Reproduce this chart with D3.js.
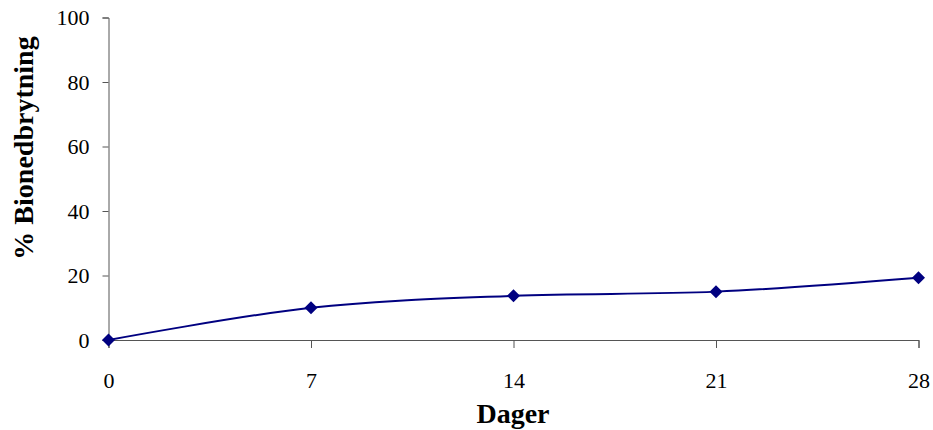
<!DOCTYPE html>
<html>
<head>
<meta charset="utf-8">
<script src="https://cdn.jsdelivr.net/npm/d3@7"></script>
<style>
  html, body { margin: 0; padding: 0; background: #fff; }
  svg { display: block; }
  svg text { font-family: "Times New Roman", "Liberation Serif", "DejaVu Serif", serif !important; }
</style>
</head>
<body>
<svg id="chart" width="933" height="430"></svg>
<script>
const days = [0, 7, 14, 21, 28];
const degradation = [0, 10.0, 13.7, 15.0, 19.3];
const xTicks = [0, 7, 14, 21, 28];
const yTicks = [0, 20, 40, 60, 80, 100];
const xTitle = "Dager";
const yTitle = "% Bionedbrytning";

const FONT = "'Times New Roman', 'Liberation Serif', 'DejaVu Serif', serif";
const svg = d3.select("#chart");
const margin = { left: 108.5, top: 17.5 };

const x = d3.scaleLinear().domain([0, 28]).range([margin.left, 918.5]);
const y = d3.scaleLinear().domain([0, 100]).range([340, margin.top]);

const axisColor = "#555";

// Y axis
const yAxis = svg.append("g")
  .attr("transform", `translate(${margin.left},0)`)
  .call(d3.axisLeft(y).tickValues(yTicks).tickSize(6).tickPadding(13).tickFormat(d3.format("d")));
yAxis.attr("font-family", FONT).attr("font-size", 22);
yAxis.select(".domain").attr("stroke", axisColor);
yAxis.selectAll(".tick line").attr("stroke", axisColor);
yAxis.selectAll(".tick text").attr("fill", "#000");

// X axis
const xAxis = svg.append("g")
  .attr("transform", `translate(0,${y(0)})`)
  .call(d3.axisBottom(x).tickValues(xTicks).tickSize(8).tickPadding(24).tickFormat(d3.format("d")));
xAxis.attr("font-family", FONT).attr("font-size", 22);
xAxis.select(".domain").attr("stroke", axisColor);
xAxis.selectAll(".tick line").attr("stroke", axisColor);
xAxis.selectAll(".tick text").attr("fill", "#000");

// Line
const pts = days.map((d, i) => [d, degradation[i]]);
svg.append("path")
  .datum(pts)
  .attr("fill", "none")
  .attr("stroke", "#000080")
  .attr("stroke-width", 2)
  .attr("d", d3.line().x(d => x(d[0])).y(d => y(d[1])).curve(d3.curveCardinal.tension(0)));

// Markers
svg.append("g").selectAll("path")
  .data(pts)
  .join("path")
  .attr("transform", d => `translate(${x(d[0])},${y(d[1])})`)
  .attr("d", "M0,-6.5L6.5,0L0,6.5L-6.5,0Z")
  .attr("fill", "#000080");

// Titles
svg.append("text")
  .attr("x", 513)
  .attr("y", 423)
  .attr("text-anchor", "middle")
  .attr("font-family", FONT)
  .attr("font-size", 28)
  .attr("font-weight", "bold")
  .text(xTitle);

svg.append("text")
  .attr("transform", `translate(33,148) rotate(-90)`)
  .attr("text-anchor", "middle")
  .attr("font-family", FONT)
  .attr("font-size", 28)
  .attr("font-weight", "bold")
  .text(yTitle);
</script>
</body>
</html>
